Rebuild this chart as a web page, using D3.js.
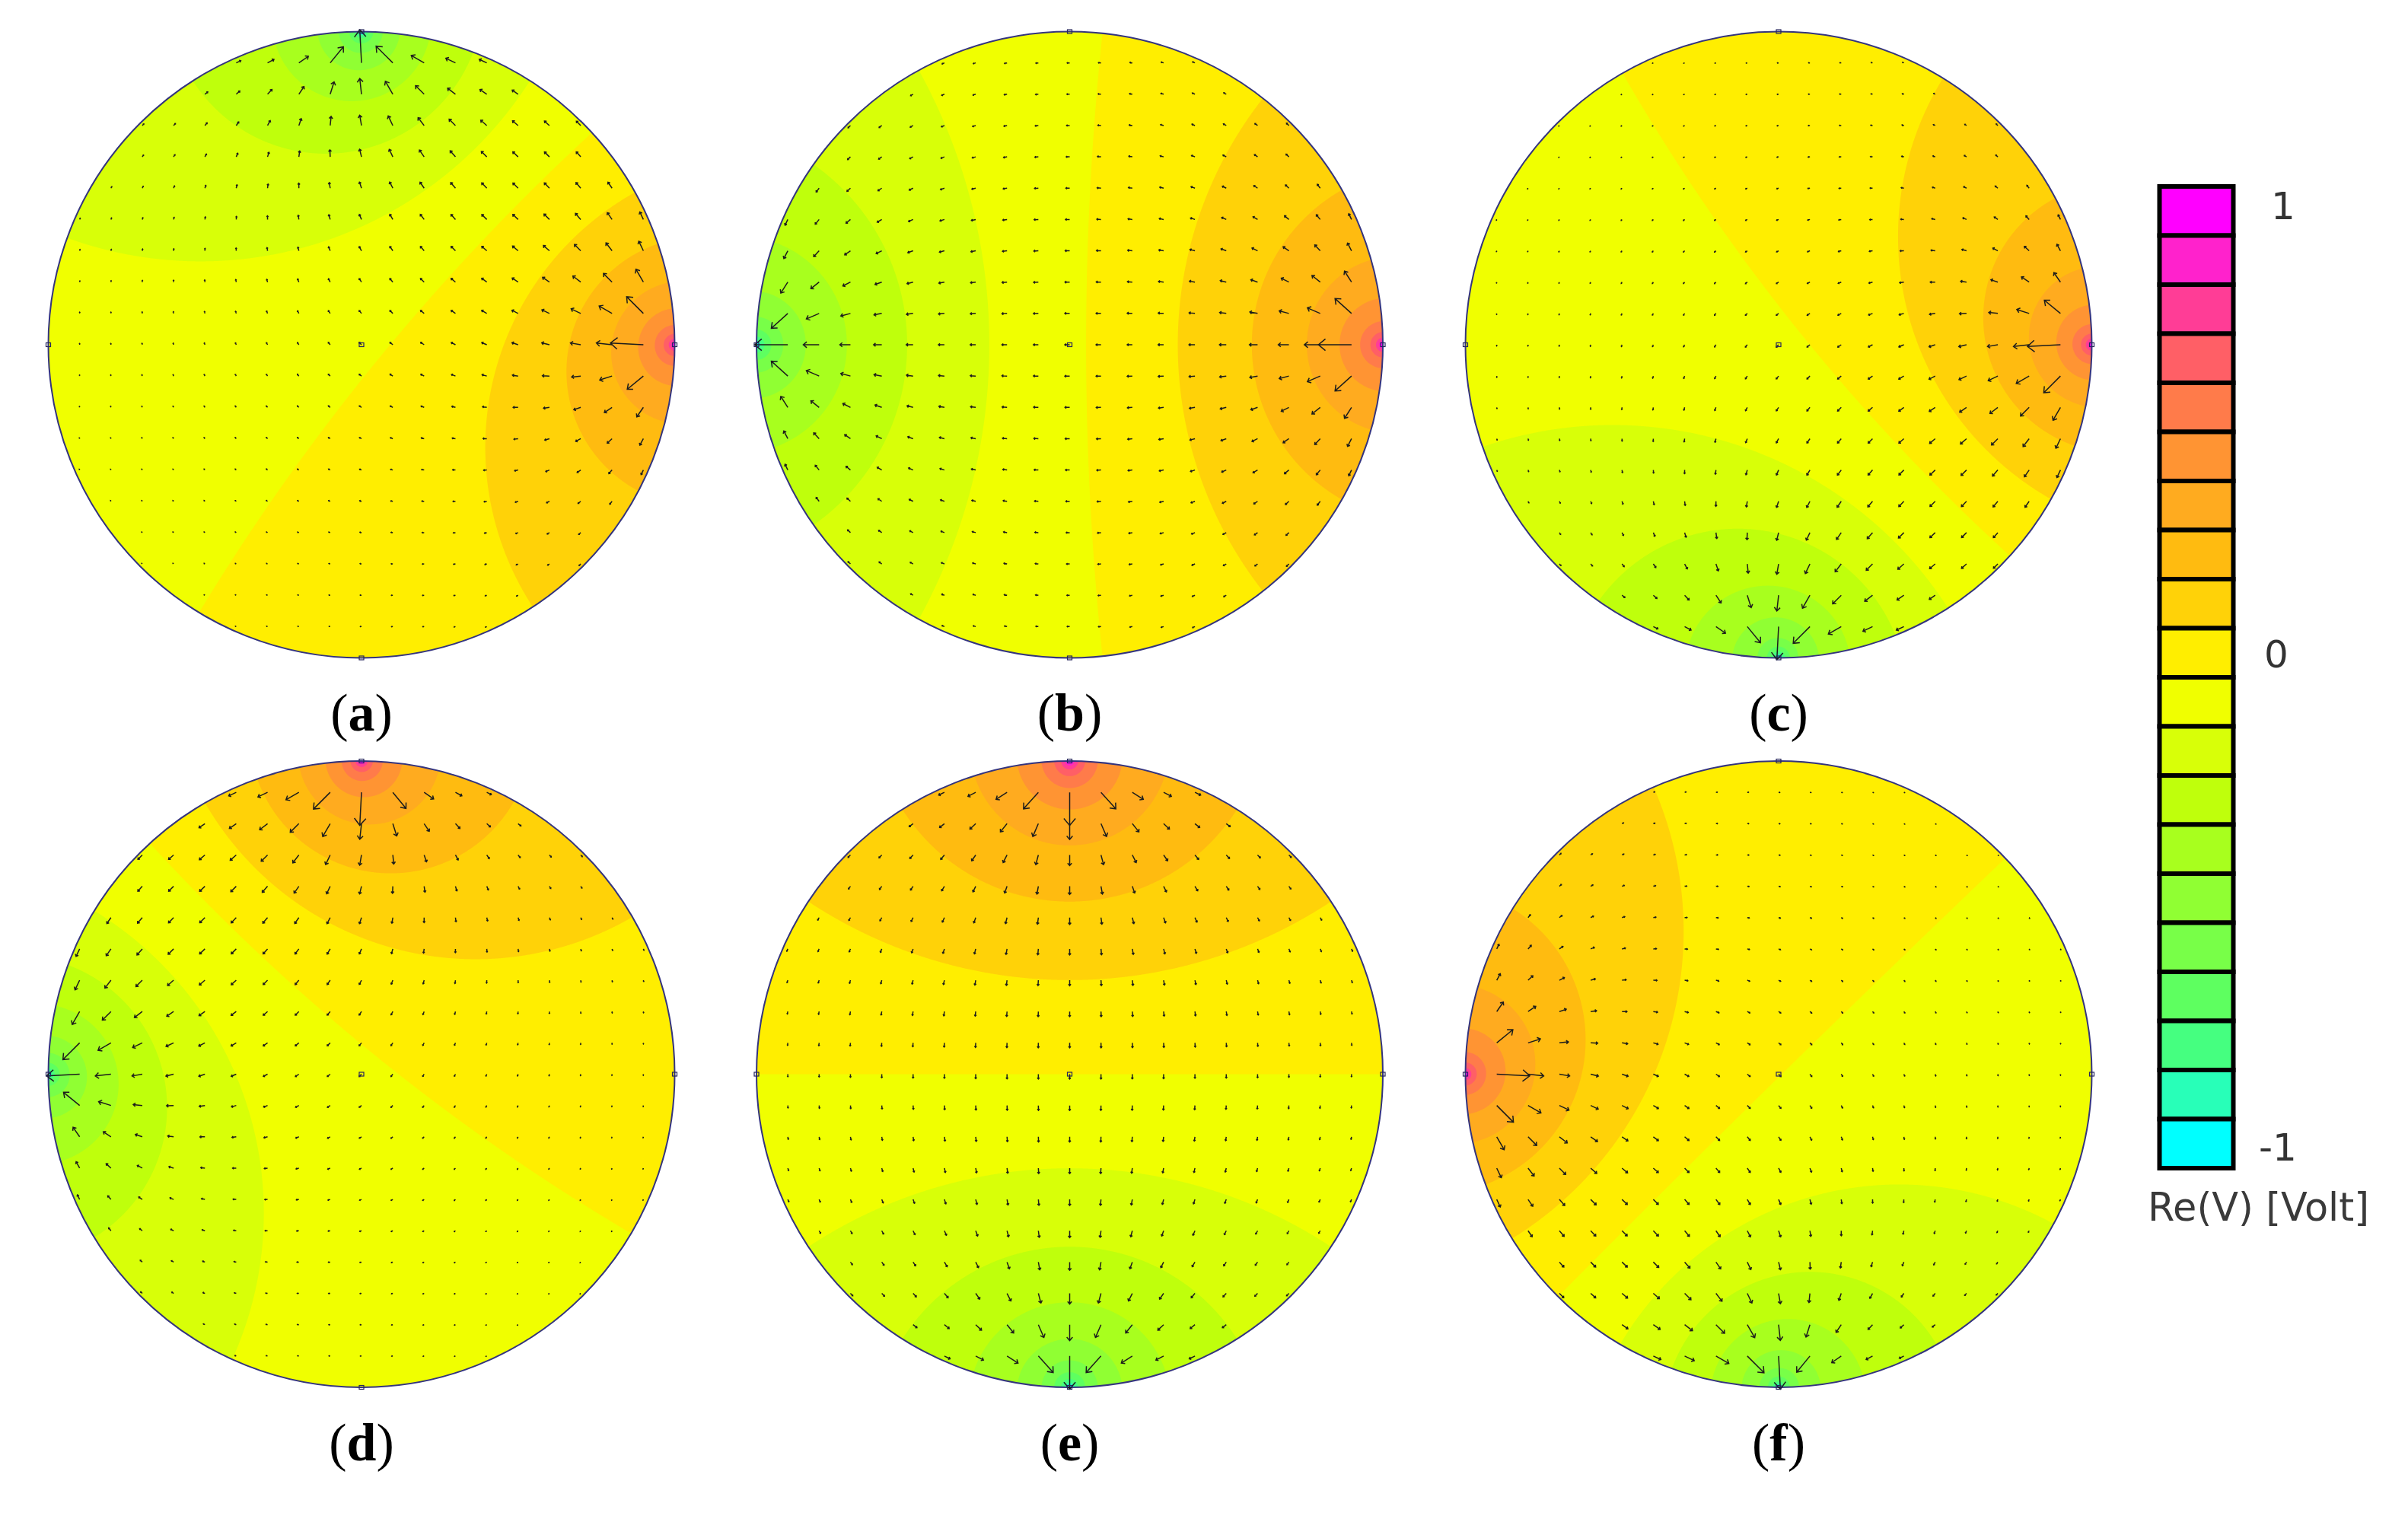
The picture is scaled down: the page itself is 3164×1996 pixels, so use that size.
<!DOCTYPE html>
<html><head><meta charset="utf-8">
<script src="https://cdnjs.cloudflare.com/ajax/libs/d3/7.8.5/d3.min.js"></script>
<style>html,body{margin:0;padding:0;background:#fff}svg{display:block}</style>
</head><body>
<svg id="chart" width="3164" height="1996"></svg>
<script>
// --- data ---
const panelLabels = ["a","b","c","d","e","f"];
// electrode positions on the rim, degrees (0 = right, 90 = top)
const sourceAngles = [0, 0, 0, 90, 90, 180];
const sinkAngles   = [90, 180, 270, 180, 270, 270];
// contour levels of ln(dSink/dSource) between neighbouring colour bands, low to high
const levelsA = [-5.4,-4.8,-4.2,-3.6,-3.0,-2.38,-1.75,-1.14,-0.54,0.10,0.70,1.27,1.85,2.44,3.07,3.68,4.3,4.9,5.5];
const levelsB = [-5.6,-5.0,-4.35,-3.72,-3.11,-2.46,-1.78,-1.15,-0.525,0.105,0.72,1.33,1.98,2.6,3.28,3.9,4.5,5.1,5.7];
const levelsC = [-5.4,-4.8,-4.2,-3.65,-3.07,-2.33,-1.71,-1.08,-0.53,0.11,0.68,1.267,1.86,2.47,3.1,3.7,4.3,4.9,5.5];
const levelsD = [-5.5,-4.9,-4.25,-3.65,-3.0,-2.38,-1.74,-1.17,-0.59,0.105,0.66,1.23,1.85,2.45,3.07,3.68,4.3,4.9,5.5];
const levelsE = [-5.5,-4.9,-4.3,-3.7,-3.1,-2.48,-1.85,-1.24,-0.62,0.0,0.62,1.24,1.86,2.48,3.1,3.7,4.3,4.9,5.5];
const levelsF = [-5.5,-4.9,-4.3,-3.7,-3.1,-2.42,-1.77,-1.2,-0.64,-0.01,0.58,1.157,1.745,2.34,3.03,3.65,4.3,4.9,5.5];
const panelLevels = [levelsA, levelsB, levelsC, levelsD, levelsE, levelsF];
// colour bands, top of the legend to bottom
const bandColors = ["#ff00ff","#ff22cc","#ff3d96","#ff5f66","#ff7b4a","#ff9433","#ffab1f","#ffbb10","#ffd208","#ffee00",
                    "#f0ff00","#d8ff08","#bfff0c","#a8ff1e","#90ff33","#78ff48","#5eff60","#45ff80","#28ffb8","#00ffff"];
const legendTicks = ["1", "0", "-1"];
const legendTickBands = [0, 9, 19];
const legendTitle = "Re(V) [Volt]";
const gridNodes = d3.range(-9, 10);        // arrow grid, tenths of the radius

// --- layout ---
const colX = [475, 1405.5, 2337];
const rowY = [453, 1411.5];
const R = 411.5;
const svg = d3.select("#chart");
const defs = svg.append("defs");
const toRad = d => d * Math.PI / 180;
const rimPoint = a => [Math.cos(toRad(a)), -Math.sin(toRad(a))];
const N = 700;
const gridToUnit = d3.scaleLinear().domain([0, N - 1]).range([-1.03, 1.03]);
const arrowLen = d3.scalePow().exponent(1.15).domain([0, 10]).range([0, 41]);  // field strength to px

panelLabels.forEach((label, p) => {
  const cx = colX[p % 3], cy = rowY[Math.floor(p / 3)];
  const x = d3.scaleLinear().domain([-1, 1]).range([cx - R, cx + R]);
  const y = d3.scaleLinear().domain([-1, 1]).range([cy - R, cy + R]);
  const src = rimPoint(sourceAngles[p]), snk = rimPoint(sinkAngles[p]);
  const levels = panelLevels[p];

  const values = new Float64Array(N * N);
  for (let j = 0; j < N; j++) for (let i = 0; i < N; i++) {
    const u = gridToUnit(i), v = gridToUnit(j);
    const da = Math.hypot(u - src[0], v - src[1]), db = Math.hypot(u - snk[0], v - snk[1]);
    values[j * N + i] = Math.max(-8, Math.min(8, Math.log((db + 1e-6) / (da + 1e-6))));
  }
  const contours = d3.contours().size([N, N]).thresholds(levels)(values);
  const path = d3.geoPath(d3.geoTransform({
    point(gx, gy) { this.stream.point(x(gridToUnit(gx - 0.5)), y(gridToUnit(gy - 0.5))); }
  }));

  defs.append("clipPath").attr("id", "clip" + label)
    .append("circle").attr("cx", cx).attr("cy", cy).attr("r", R);

  const g = svg.append("g").style("filter", "blur(0.6px)");
  const field = g.append("g").attr("clip-path", `url(#clip${label})`);
  field.append("circle").attr("cx", cx).attr("cy", cy).attr("r", R).attr("fill", bandColors[19]);
  field.selectAll("path").data(contours).join("path")
    .attr("d", path)
    .attr("fill", (d, j) => bandColors[18 - j]);

  g.append("circle").attr("cx", cx).attr("cy", cy).attr("r", R)
    .attr("fill", "none").attr("stroke", "#34347e").attr("stroke-width", 2);

  // arrows
  const nodes = [];
  gridNodes.forEach(r => gridNodes.forEach(c => {
    if (Math.hypot(r, c) < 9.95) nodes.push([c / 10, r / 10]);
  }));
  const arrows = nodes.map(([u, v]) => {
    const ax = u - src[0], ay = v - src[1], bx = u - snk[0], by = v - snk[1];
    const a2 = ax * ax + ay * ay, b2 = bx * bx + by * by;
    const ex = ax / a2 - bx / b2, ey = ay / a2 - by / b2;
    const m = Math.hypot(ex, ey);
    const len = arrowLen(m);
    return { px: x(u), py: y(v), dx: ex / m, dy: ey / m, len };
  });
  g.append("g").attr("fill", "none").attr("stroke", "#1c1c1c").attr("stroke-width", 1.5)
    .selectAll("path").data(arrows).join("path")
    .attr("d", d => {
      const tx = d.px + d.dx * d.len, ty = d.py + d.dy * d.len;
      const w = Math.min(12, 0.26 * d.len + 0.6), c = 0.77, s = 0.64;
      const w1x = -(d.dx * c - d.dy * s) * w, w1y = -(d.dy * c + d.dx * s) * w;
      const w2x = -(d.dx * c + d.dy * s) * w, w2y = -(d.dy * c - d.dx * s) * w;
      return `M${d.px},${d.py}L${tx},${ty}M${tx + w1x},${ty + w1y}L${tx},${ty}L${tx + w2x},${ty + w2y}`;
    });

  // node markers: rim positions and the centre
  const markers = [[0,0],[1,0],[-1,0],[0,1],[0,-1]];
  g.append("g").selectAll("rect").data(markers).join("rect")
    .attr("x", d => x(d[0]) - 3).attr("y", d => y(d[1]) - 2.5)
    .attr("width", 6).attr("height", 5)
    .attr("fill", "none").attr("stroke", "#26265e").attr("stroke-width", 1.2);

  // caption
  const t = svg.append("text").attr("x", cx).attr("y", cy + 507)
    .attr("text-anchor", "middle")
    .attr("font-family", "'Liberation Serif'").attr("font-size", 70).attr("fill", "#000");
  t.append("tspan").text("(");
  t.append("tspan").attr("font-weight", "bold").text(label);
  t.append("tspan").text(")");
});

// --- legend ---
const legendY = d3.scaleBand().domain(d3.range(20)).range([245, 1535]);
const legend = svg.append("g").style("filter", "blur(0.6px)");
legend.selectAll("rect").data(bandColors).join("rect")
  .attr("x", 2837.5).attr("width", 97)
  .attr("y", (d, i) => legendY(i)).attr("height", legendY.bandwidth())
  .attr("fill", d => d).attr("stroke", "#000").attr("stroke-width", 6);
const textFont = "'DejaVu Sans'";
const tickX = [3000, 2991, 2993];
const tickDy = [11, 19, 22];
legend.selectAll("text.tick").data(legendTicks).join("text").attr("class", "tick")
  .attr("x", (d, i) => tickX[i])
  .attr("y", (d, i) => legendY(legendTickBands[i]) + legendY.bandwidth() / 2 + tickDy[i])
  .attr("text-anchor", "middle")
  .attr("font-family", textFont).attr("font-size", 50).attr("fill", "#333")
  .text(d => d);
legend.append("text").attr("x", 2822).attr("y", 1604)
  .attr("font-family", textFont).attr("font-size", 51)
  .attr("textLength", 291).attr("lengthAdjust", "spacingAndGlyphs").attr("fill", "#3a3a3a")
  .text(legendTitle);
</script>
</body></html>
